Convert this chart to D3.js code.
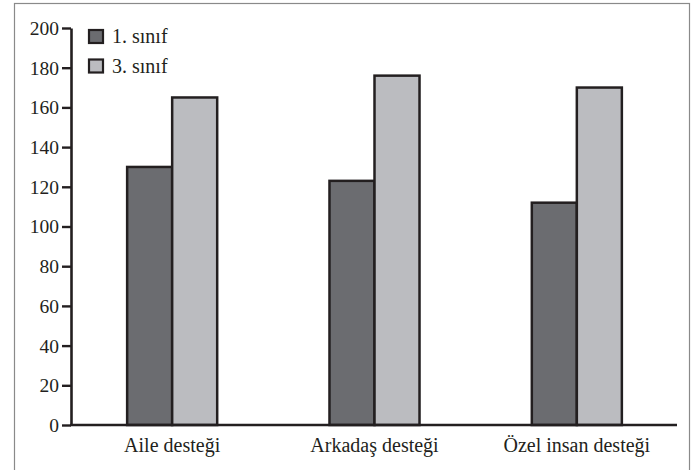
<!DOCTYPE html>
<html>
<head>
<meta charset="utf-8">
<script src="https://cdn.jsdelivr.net/npm/d3@7"></script>
<style>
  body { margin: 0; background: #fff; }
  svg { display: block; }
</style>
</head>
<body>
<svg id="chart" width="694" height="470"></svg>
<script>
// veriler
var categories = ["Aile desteği", "Arkadaş desteği", "Özel insan desteği"];
var seriesNames = ["1. sınıf", "3. sınıf"];
var sinif1 = [130, 123, 112];
var sinif3 = [165, 176, 170];
var yTicks = [0, 20, 40, 60, 80, 100, 120, 140, 160, 180, 200];

var colors = ["#6b6c70", "#bbbcc0"];
var ink = "#231f20";
var FONT = "Liberation Serif, Times New Roman, serif";

var svg = d3.select("#chart");

// çerçeve
svg.append("rect")
    .attr("x", 14.5).attr("y", 3.5)
    .attr("width", 675).attr("height", 480)
    .attr("fill", "none")
    .attr("stroke", "#8a8a8a")
    .attr("stroke-width", 1.2);

var y = d3.scaleLinear().domain([0, 200]).range([425, 28]);
var x0 = d3.scaleBand().domain(categories).range([71, 678])
    .paddingInner(0.555).paddingOuter(0.2775);
var x1 = d3.scaleBand().domain(seriesNames).range([0, x0.bandwidth()]);

var rows = categories.map(function(c, i) {
    return { cat: c, values: [sinif1[i], sinif3[i]] };
});

// çubuklar
var groups = svg.selectAll("g.grp").data(rows).enter().append("g")
    .attr("class", "grp")
    .attr("transform", function(d) { return "translate(" + x0(d.cat) + ",0)"; });

groups.selectAll("rect").data(function(d) {
        return d.values.map(function(v, j) { return { name: seriesNames[j], v: v, j: j }; });
    }).enter().append("rect")
    .attr("x", function(d) { return x1(d.name); })
    .attr("y", function(d) { return y(d.v); })
    .attr("width", x1.bandwidth())
    .attr("height", function(d) { return y(0) - y(d.v); })
    .attr("fill", function(d) { return colors[d.j]; })
    .attr("stroke", ink)
    .attr("stroke-width", 2.5);

// y ekseni
var yAxis = svg.append("g")
    .attr("transform", "translate(71,0)")
    .attr("font-family", FONT)
    .attr("font-size", 19.5)
    .call(d3.axisLeft(y).tickValues(yTicks).tickSize(9).tickSizeOuter(0).tickPadding(3));
yAxis.attr("font-family", FONT).attr("font-size", 19.5);
yAxis.select(".domain").attr("stroke", ink).attr("stroke-width", 2.6);
yAxis.selectAll(".tick line").attr("stroke", ink).attr("stroke-width", 2.4);
yAxis.selectAll(".tick text")
    .attr("fill", ink)
    .attr("dy", "0.33em");

// x ekseni
var xAxis = svg.append("g")
    .attr("transform", "translate(0,425)")
    .call(d3.axisBottom(x0).tickSize(0).tickSizeOuter(0).tickPadding(13));
xAxis.attr("font-family", FONT).attr("font-size", 20);
xAxis.select(".domain")
    .attr("d", "M70,0H677")
    .attr("stroke", ink).attr("stroke-width", 2.6);
xAxis.selectAll(".tick text")
    .attr("fill", ink);

// lejant
var legend = svg.selectAll("g.leg").data(seriesNames).enter().append("g")
    .attr("class", "leg")
    .attr("transform", function(d, i) { return "translate(89," + (30 + i * 29.5) + ")"; });
legend.append("rect")
    .attr("width", 14).attr("height", 13)
    .attr("fill", function(d, i) { return colors[i]; })
    .attr("stroke", ink).attr("stroke-width", 2.2);
legend.append("text")
    .attr("x", 23).attr("y", 13)
    .attr("fill", ink)
    .attr("font-family", FONT)
    .attr("font-size", 20)
    .text(function(d) { return d; });
</script>
</body>
</html>
